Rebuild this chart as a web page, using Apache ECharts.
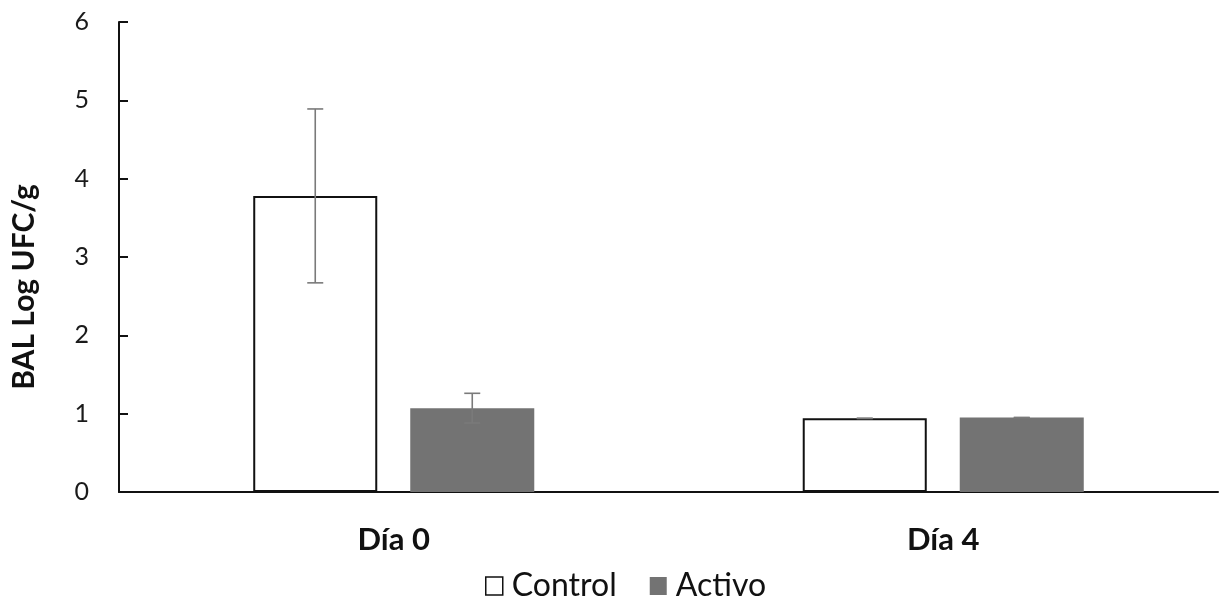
<!DOCTYPE html>
<html>
<head>
<meta charset="utf-8">
<script src="https://cdn.jsdelivr.net/npm/echarts@6/dist/echarts.min.js"></script>
<style>html,body{margin:0;padding:0;background:#fff}#c{width:1220px;height:605px}</style>
</head>
<body>
<div id="c"></div>
<script>
var categories = ['Día 0', 'Día 4'];
var controlValues = [3.78, 0.94];
var activoValues = [1.07, 0.95];
var controlErrors = [1.11, 0];
var activoErrors = [0.19, 0];
var yTicks = [0, 1, 2, 3, 4, 5, 6];

var BAR_W = 0.2257;   // fraction of category band
var BAR_GAP = 0.266;  // fraction of bar width

function errorSeries(name, values, errors, side) {
  var data = values.map(function (v, i) { return [i, v, errors[i]]; });
  return {
    type: 'custom',
    name: name + ' error',
    silent: true,
    z: 10,
    renderItem: function (params, api) {
      var i = api.value(0), v = api.value(1), e = api.value(2);
      var band = api.size([1, 0])[0];
      var w = band * BAR_W;
      var off = side * (w + w * BAR_GAP) / 2;
      var top = api.coord([i, v + e]);
      var bot = api.coord([i, v - e]);
      var x = top[0] + off;
      var cap = 8;
      var style = { stroke: '#7a7a7a', lineWidth: 1.6 };
      return {
        type: 'group',
        children: [
          { type: 'line', shape: { x1: x, y1: top[1], x2: x, y2: bot[1] }, style: style },
          { type: 'line', shape: { x1: x - cap, y1: top[1], x2: x + cap, y2: top[1] }, style: style },
          { type: 'line', shape: { x1: x - cap, y1: bot[1], x2: x + cap, y2: bot[1] }, style: style }
        ]
      };
    },
    data: data
  };
}

var chart = echarts.init(document.getElementById('c'));
chart.setOption({
  animation: false,
  textStyle: { fontFamily: 'Lato' },
  grid: { left: 119, right: 2, top: 22, bottom: 113, containLabel: false },
  legend: {
    left: 480, top: 565,
    itemWidth: 17, itemHeight: 18, itemGap: 33,
    textStyle: { fontSize: 32, color: '#111', fontFamily: 'Lato', padding: [0, 0, 0, 4] },
    data: [
      { name: 'Control', icon: 'rect', itemStyle: { color: '#fff', borderColor: '#111', borderWidth: 1.5 } },
      { name: 'Activo', icon: 'rect', itemStyle: { color: '#737373', borderWidth: 0 } }
    ]
  },
  xAxis: {
    type: 'category',
    data: categories,
    axisLine: { lineStyle: { color: '#111', width: 2 } },
    axisTick: { show: false },
    axisLabel: { fontSize: 31, fontWeight: 'bold', color: '#111', margin: 32, fontFamily: 'Lato' }
  },
  yAxis: {
    type: 'value',
    min: 0, max: 6, interval: 1,
    name: 'BAL Log UFC/g',
    nameLocation: 'middle',
    nameGap: 80,
    nameRotate: 90,
    nameTextStyle: { fontSize: 30, fontWeight: 'bold', color: '#111', fontFamily: 'Lato', padding: [0, 60, 0, 0] },
    splitLine: { show: false },
    axisLine: { show: true, lineStyle: { color: '#111', width: 2 } },
    axisTick: { show: true, inside: true, length: 9, lineStyle: { color: '#111', width: 2 } },
    axisLabel: {
      fontSize: 25, color: '#1a1a1a', margin: 30, fontFamily: 'Lato',
      formatter: function (v) { return yTicks.indexOf(v) >= 0 ? String(v) : ''; }
    }
  },
  series: [
    {
      name: 'Control', type: 'bar', data: controlValues,
      barWidth: (BAR_W * 100) + '%', barGap: (BAR_GAP * 100) + '%',
      itemStyle: { color: '#fff', borderColor: '#111', borderWidth: 2 }
    },
    {
      name: 'Activo', type: 'bar', data: activoValues,
      barWidth: (BAR_W * 100) + '%', barGap: (BAR_GAP * 100) + '%',
      itemStyle: { color: '#737373' }
    },
    errorSeries('Control', controlValues, controlErrors, -1),
    errorSeries('Activo', activoValues, activoErrors, 1)
  ]
});
</script>
</body>
</html>
